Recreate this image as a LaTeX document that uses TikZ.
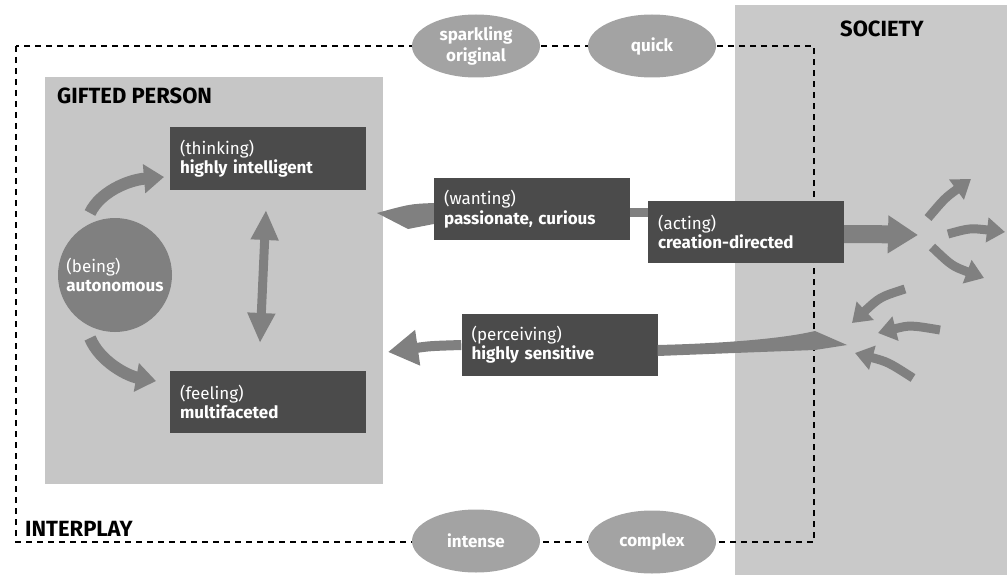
\documentclass[tikz,border=0pt]{standalone}
\usepackage{fontspec}
\setmainfont{Fira Sans}
\usetikzlibrary{shapes.geometric,arrows.meta}
\definecolor{boxdark}{HTML}{4B4B4B}
\definecolor{arrowgray}{HTML}{808080}
\definecolor{ellgray}{HTML}{A3A3A3}
\definecolor{personbg}{HTML}{C6C6C6}
\definecolor{societybg}{HTML}{C9C9C9}
\begin{document}
\begin{tikzpicture}[x=1pt,y=-1pt,
  darkbox/.style={fill=boxdark,text=white,text width=176pt,align=left,inner xsep=10pt,minimum height=62pt,font=\fontsize{17}{19.5}\selectfont},
  oval/.style={ellipse,fill=ellgray,text=white,minimum width=128pt,minimum height=63pt,inner sep=0pt,font=\fontsize{17}{21}\selectfont\bfseries,align=center},
  fat/.style={draw=arrowgray,line width=9pt,-{Triangle[length=18pt,width=24pt]}},
  heading/.style={font=\fontsize{22}{24}\selectfont\bfseries,text=black,inner sep=0pt,anchor=base west},
  interplay/.style={draw=black,line width=2.6pt,dash pattern=on 6pt off 5pt}]
\useasboundingbox (0,0) rectangle (1007,575);
% backgrounds
\fill[societybg] (735,5) rectangle (1007,575);
\fill[personbg] (45,77) rectangle (383,484);
\draw[interplay] (16,46) rectangle (814,542);
% labels
\node[heading] (gp) at (57,104) {GIFTED PERSON};
\node[heading] (soc) at (840,37) {SOCIETY};
\node[heading] (ip) at (25,536) {INTERPLAY};
% ovals
\node[oval] (sparkling) at (476,46) {sparkling\\original};
\node[oval] (quick) at (652,46) {quick};
\node[oval] (intense) at (476,541) {intense};
\node[oval] (complex) at (652,542) {complex};
% boxes
\node[darkbox] (thinking) at (268,158.5) {(thinking)\\\textbf{highly intelligent}};
\node[darkbox] (feeling) at (268,402) {(feeling)\\\textbf{multifaceted}};
\node[darkbox] (wanting) at (532,209) {(wanting)\\\textbf{passionate, curious}};
\node[darkbox] (acting) at (746,232) {(acting)\\\textbf{creation-directed}};
\node[darkbox] (perceiving) at (559.5,344.5) {(perceiving)\\\textbf{highly sensitive}};
\node[circle,fill=arrowgray,minimum size=114pt,inner sep=0pt,text=white,align=left,font=\fontsize{17}{19.5}\selectfont] (being) at (115,275) {(being)\\\textbf{autonomous}};
% coordinates
\coordinate (b1) at (90,213);
\coordinate (b2) at (90,338);
\coordinate (t1) at (164,177);
\coordinate (f1) at (156,381);
\coordinate (up) at (266,210);
\coordinate (dn) at (260,343);
\coordinate (wtip) at (377,213);
\coordinate (ptip) at (388,352);
\coordinate (hub) at (918,235);
\coordinate (o1s) at (928,218); \coordinate (o1) at (971,179);
\coordinate (o2s) at (948,234); \coordinate (o2) at (1005,232);
\coordinate (o3s) at (932,247); \coordinate (o3) at (984,278);
\coordinate (i1s) at (905,289); \coordinate (i1) at (852,323);
\coordinate (i2s) at (940,330); \coordinate (i2) at (878,333);
\coordinate (i3s) at (913,378); \coordinate (i3) at (855,353);
\coordinate (pend) at (847,345);
% inner arrows
\draw[fat,line width=12pt,-{Triangle[length=20pt,width=28pt]}] (b1) .. controls (100,192) and (128,180) .. (t1);
\draw[fat,line width=12pt,-{Triangle[length=20pt,width=28pt]}] (b2) .. controls (100,362) and (128,376) .. (f1);
\draw[fat,line width=9pt,{Triangle[length=30pt,width=26pt]}-{Triangle[length=30pt,width=26pt]}] (up) -- (dn);
% wanting wedge
\fill[arrowgray] (wanting.west |- 0,203) .. controls (410,204) .. (wtip) -- (408,229) -- (wanting.west |- 0,224) -- cycle;
% wanting - acting bar
\fill[arrowgray] (wanting.east |- 0,208) rectangle (acting.west |- 0,217);
% acting out
\draw[fat,line width=18pt,-{Triangle[length=30pt,width=36pt]}] (acting.east |- 0,234) .. controls (870,234) .. (hub);
\draw[fat] (o1s) .. controls (945,198) .. (o1);
\draw[fat] (o2s) .. controls (970,228) .. (o2);
\draw[fat] (o3s) .. controls (952,266) .. (o3);
% incoming
\draw[fat] (i1s) .. controls (880,297) .. (i1);
\draw[fat] (i2s) .. controls (910,325) .. (i2);
\draw[fat] (i3s) .. controls (888,362) .. (i3);
% perceiving wedge
\fill[arrowgray] (perceiving.east |- 0,345) .. controls (740,343) and (790,337) .. (815,331) -- (pend) -- (815,350) .. controls (760,352) .. (perceiving.east |- 0,356) -- cycle;
\draw[fat,line width=10pt,-{Triangle[length=30pt,width=34pt]}] (perceiving.west |- 0,345) .. controls (430,346) .. (ptip);
\end{tikzpicture}
\end{document}
